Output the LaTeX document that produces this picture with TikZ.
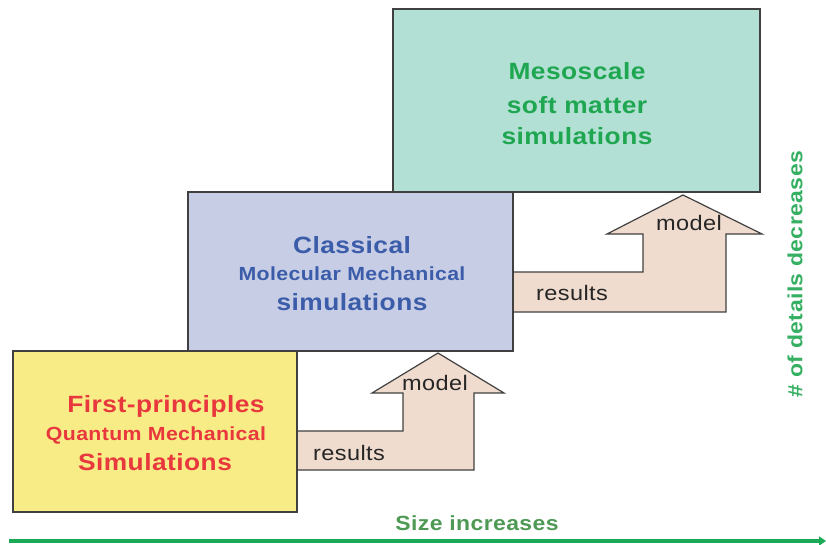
\documentclass[tikz,border=0pt]{standalone}
\usepackage{fontspec}
\setmainfont[LetterSpace=2,FakeStretch=1.12]{Liberation Sans}
\usetikzlibrary{arrows.meta}
\definecolor{qmfill}{HTML}{F7EC85}
\definecolor{cmfill}{HTML}{C8CDE6}
\definecolor{msfill}{HTML}{B3E0D4}
\definecolor{arrfill}{HTML}{F0DCCF}
\definecolor{qmtext}{HTML}{E8383D}
\definecolor{cmtext}{HTML}{3B5CA8}
\definecolor{mstext}{HTML}{1EA650}
\definecolor{axisgreen}{HTML}{1AAA55}
\definecolor{sizegreen}{HTML}{4E9A55}
\definecolor{edge}{HTML}{404040}
\tikzset{
  level/.style={draw=edge, line width=1.4pt},
  flow/.style={draw=edge, line width=1.2pt, fill=arrfill, line join=miter},
  big/.style={font=\bfseries\fontsize{23.5}{27}\selectfont, anchor=base},
  small/.style={font=\bfseries\fontsize{19}{22}\selectfont, anchor=base},
  plain/.style={font=\fontsize{21}{24}\selectfont, text=black!85, anchor=base},
}
\begin{document}
\begin{tikzpicture}[x=1pt, y=-1pt]
\useasboundingbox (0,0) rectangle (826,544);

% flow arrows between levels (drawn first, boxes overlap their ends)
\draw[flow] (290,431) -- (403,431) -- (403,393) -- (372,393) -- (438,353)
  -- (504,393) -- (474,393) -- (474,470) -- (290,470) -- cycle;
\draw[flow] (508,272) -- (643,272) -- (643,234) -- (607,234) -- (683,195)
  -- (762,234) -- (726,234) -- (726,312) -- (508,312) -- cycle;

% the three levels of description
\filldraw[level, fill=msfill] (393,9) rectangle (760,192);
\filldraw[level, fill=cmfill] (188,192) rectangle (513,351);
\filldraw[level, fill=qmfill] (13,351) rectangle (297,512);

\node[big, text=mstext] (ms1) at (577,79) {Mesoscale};
\node[big, text=mstext] (ms2) at (577,113) {soft matter};
\node[big, text=mstext] (ms3) at (577,144) {simulations};

\node[big, text=cmtext] (cm1) at (352,253) {Classical};
\node[small, text=cmtext] (cm2) at (352,280) {Molecular Mechanical};
\node[big, text=cmtext] (cm3) at (352,310) {simulations};

\node[big, text=qmtext] (qm1) at (166,412) {First-principles};
\node[small, text=qmtext] (qm2) at (156,440) {Quantum Mechanical};
\node[big, text=qmtext] (qm3) at (155,470) {Simulations};

% arrow labels
\node[plain] (r1) at (349,460) {results};
\node[plain] (m1) at (435,390) {model};
\node[plain] (r2) at (572,300) {results};
\node[plain] (m2) at (689,230) {model};

% axes
\coordinate (xa) at (9,541);
\coordinate (xb) at (826,541);
\draw[axisgreen, line width=3.4pt, -{Triangle[length=7pt,width=9pt]}] (xa) -- (xb);
\node[font=\bfseries\fontsize{20.5}{24}\selectfont, text=sizegreen, anchor=base] (size) at (477,530) {Size increases};
\node[font=\bfseries\fontsize{20.5}{24}\selectfont, text=mstext!90!white, rotate=90] (detail) at (795,274) {\# of details decreases};
\end{tikzpicture}
\end{document}
